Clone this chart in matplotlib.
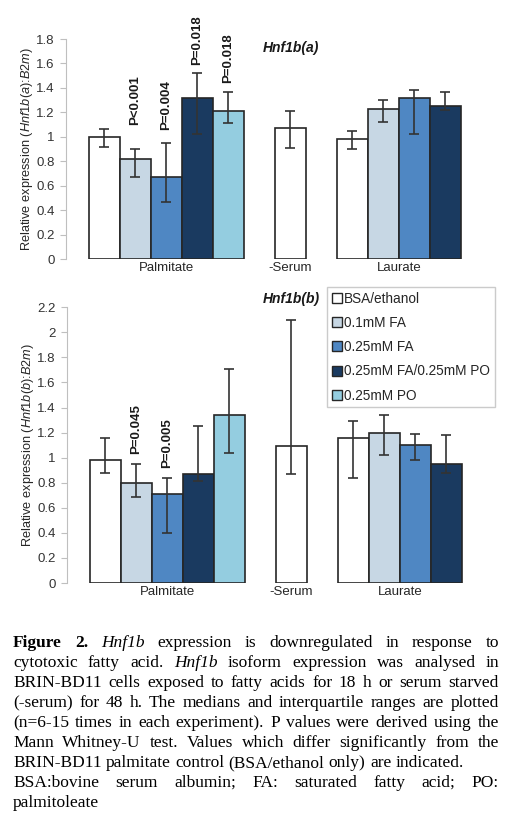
import numpy as np
import matplotlib
matplotlib.use('Agg')
import matplotlib.pyplot as plt
from matplotlib.patches import Patch

# categorie e trattamenti
groups = ['Palmitate', '-Serum', 'Laurate']
treatments = ['BSA/ethanol', '0.1mM FA', '0.25mM FA', '0.25mM FA/0.25mM PO', '0.25mM PO']
colors = ['#ffffff', '#c7d7e4', '#4f87c3', '#1a3a60', '#94cde0']

# pannello (a): mediane e range interquartile
a_palm = [1.00, 0.82, 0.67, 1.32, 1.21]
a_palm_lo = [0.92, 0.67, 0.47, 1.02, 1.11]
a_palm_hi = [1.06, 0.90, 0.95, 1.52, 1.37]
a_serum = [1.07]
a_serum_lo = [0.91]
a_serum_hi = [1.21]
a_laur = [0.98, 1.23, 1.32, 1.25]
a_laur_lo = [0.90, 1.12, 1.02, 1.22]
a_laur_hi = [1.05, 1.30, 1.38, 1.37]
a_pvals = ['', 'P<0.001', 'P=0.004', 'P=0.018', 'P=0.018']

# pannello (b)
b_palm = [0.98, 0.80, 0.71, 0.87, 1.34]
b_palm_lo = [0.88, 0.69, 0.40, 0.81, 1.04]
b_palm_hi = [1.16, 0.95, 0.84, 1.25, 1.71]
b_serum = [1.09]
b_serum_lo = [0.87]
b_serum_hi = [2.10]
b_laur = [1.16, 1.20, 1.10, 0.95]
b_laur_lo = [0.84, 1.02, 0.98, 0.875]
b_laur_hi = [1.29, 1.34, 1.19, 1.18]
b_pvals = ['', 'P=0.045', 'P=0.005', '', '']

caption_lines = [
    ('**Figure** **2.** *Hnf1b* expression is downregulated in response to', True),
    ('cytotoxic fatty acid. *Hnf1b* isoform expression was analysed in', True),
    ('BRIN-BD11 cells exposed to fatty acids for 18 h or serum starved', True),
    ('(-serum) for 48 h. The medians and interquartile ranges are plotted', True),
    ('(n=6-15 times in each experiment). P values were derived using the', True),
    ('Mann Whitney-U test. Values which differ significantly from the', True),
    ('BRIN-BD11 palmitate control (BSA/ethanol only) are indicated.', False),
    ('BSA:bovine serum albumin; FA: saturated fatty acid; PO:', True),
    ('palmitoleate', False),
]

plt.rcParams['font.family'] = ['Liberation Sans', 'DejaVu Sans']
plt.rcParams['mathtext.fontset'] = 'custom'
plt.rcParams['mathtext.rm'] = 'Liberation Sans'
plt.rcParams['mathtext.it'] = 'Liberation Sans:italic'

W, H = 506, 821
FS = 9.5
fig = plt.figure(figsize=(W / 100, H / 100), dpi=100)

def px(x, y):
    return x / W, 1 - y / H

def draw_panel(ax, vals, los, his, pvals, ymax, title, title_xy, ylabel, p_pads):
    x_palm = np.arange(5)
    x_serum = np.array([6])
    x_laur = 8 + np.arange(4)
    for xs, v, lo, hi, cols in [(x_palm, vals[0], los[0], his[0], colors),
                                (x_serum, vals[1], los[1], his[1], colors[:1]),
                                (x_laur, vals[2], los[2], his[2], colors[:4])]:
        v = np.array(v); lo = np.array(lo); hi = np.array(hi)
        ax.bar(xs, v, width=1.0, color=cols, edgecolor='#262626', linewidth=1.2, zorder=2)
        ax.errorbar(xs, v, yerr=[v - lo, hi - v], fmt='none', ecolor='#333333',
                    elinewidth=1.2, capsize=3.5, capthick=1.2, zorder=3)
    for i, p in enumerate(pvals):
        if p:
            ax.annotate(p, xy=(x_palm[i], his[0][i]), xytext=(0, p_pads[i]),
                        textcoords='offset points', rotation=90, ha='center', va='bottom',
                        fontsize=FS, fontweight='bold', color='#1a1a1a', annotation_clip=False)
    ax.set_xlim(-1.24, 12.44)
    ax.set_ylim(0, ymax)
    ticks = np.round(np.arange(0, ymax + 0.01, 0.2), 1)
    ax.set_yticks(ticks)
    ax.set_yticklabels(['{:g}'.format(t) for t in ticks], fontsize=FS, color='#333333')
    ax.tick_params(axis='y', length=4, color='#bfbfbf', pad=4)
    ax.set_xticks([2, 6, 9.5])
    ax.set_xticklabels(groups, fontsize=FS, color='#262626')
    ax.tick_params(axis='x', length=0, pad=2)
    for s in ['top', 'right', 'bottom']:
        ax.spines[s].set_visible(False)
    ax.spines['left'].set_color('#bfbfbf')
    ax.set_ylabel(ylabel, fontsize=9.2, color='#262626')
    ax.yaxis.set_label_coords(-0.074, 0.5)
    fig.text(*title_xy, title, fontsize=10, fontweight='bold', fontstyle='italic',
             ha='left', va='center', color='#1a1a1a')

ax1 = fig.add_axes([66 / W, 1 - 259 / H, 424 / W, 220 / H])
draw_panel(ax1, [a_palm, a_serum, a_laur], [a_palm_lo, a_serum_lo, a_laur_lo],
           [a_palm_hi, a_serum_hi, a_laur_hi], a_pvals, 1.8, 'Hnf1b(a)', px(263, 48),
           'Relative expression ($\\mathit{Hnf1b(a)}$:$\\mathit{B2m}$)', [0, 17, 9, 6, 6])

ax2 = fig.add_axes([67 / W, 1 - 583 / H, 424 / W, 275.7 / H])
draw_panel(ax2, [b_palm, b_serum, b_laur], [b_palm_lo, b_serum_lo, b_laur_lo],
           [b_palm_hi, b_serum_hi, b_laur_hi], b_pvals, 2.2, 'Hnf1b(b)', px(263, 299),
           'Relative expression ($\\mathit{Hnf1b(b)}$:$\\mathit{B2m}$)', [0, 7, 7, 0, 0])

handles = [Patch(facecolor=c, edgecolor='#262626', linewidth=1) for c in colors]
leg = fig.legend(handles, treatments, loc='upper left', bbox_to_anchor=px(327, 287),
                 fontsize=9.8, frameon=True, fancybox=False, edgecolor='#bfbfbf',
                 handlelength=0.75, handleheight=0.75, handletextpad=0.15,
                 labelspacing=0.75, borderpad=0.35, borderaxespad=0)
leg.get_frame().set_linewidth(1.0)
for t in leg.get_texts():
    t.set_color('#262626')

# didascalia giustificata
renderer = fig.canvas.get_renderer()
cap_size = 12.5
x0, x1 = 13, 499
for i, (line, justify) in enumerate(caption_lines):
    y = 647 + 20 * i
    items = []
    for w in line.split(' '):
        weight, style = 'normal', 'normal'
        if w.startswith('**'):
            weight = 'bold'
            w = w.strip('*')
        elif w.startswith('*'):
            style = 'italic'
            w = w.strip('*')
        t = fig.text(0, 0, w, fontsize=cap_size, family='Liberation Serif',
                     fontweight=weight, fontstyle=style, ha='left', va='baseline', color='black')
        items.append((t, t.get_window_extent(renderer).width))
    total = sum(wd for _, wd in items)
    if justify and len(items) > 1:
        gap = (x1 - x0 - total) / (len(items) - 1)
    else:
        gap = cap_size * 0.25 * 100 / 72
    xc = x0
    for t, wd in items:
        t.set_position(px(xc, y))
        xc += wd + gap

fig.savefig('out.png', dpi=100)
